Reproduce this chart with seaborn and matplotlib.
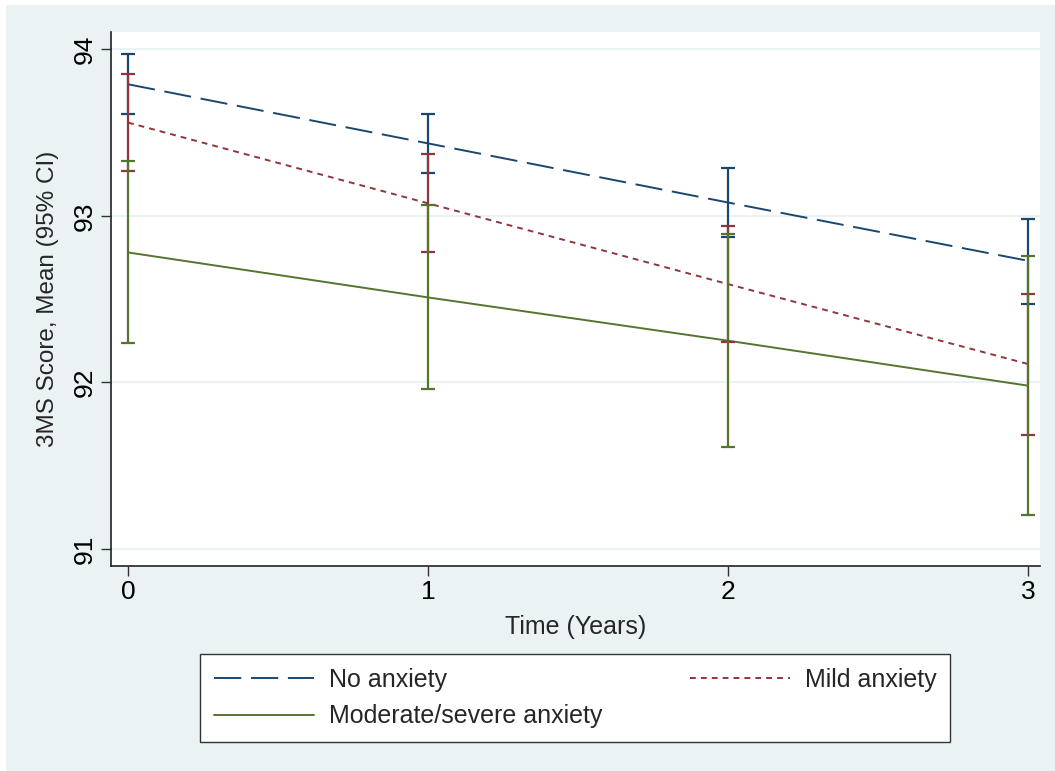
import pandas as pd
import seaborn as sns
import matplotlib.pyplot as plt
from matplotlib.patches import Rectangle
from matplotlib.lines import Line2D

# Mean 3MS score and 95% CI by anxiety group
time = [0, 1, 2, 3]
groups = ['No anxiety', 'Mild anxiety', 'Moderate/severe anxiety']

no_mean = [93.79, 93.435, 93.08, 92.73]
no_lo = [93.61, 93.26, 92.875, 92.47]
no_hi = [93.97, 93.61, 93.29, 92.98]

mild_mean = [93.56, 93.075, 92.59, 92.11]
mild_lo = [93.27, 92.78, 92.245, 91.685]
mild_hi = [93.85, 93.37, 92.94, 92.53]

mod_mean = [92.78, 92.51, 92.25, 91.98]
mod_lo = [92.235, 91.96, 91.61, 91.205]
mod_hi = [93.33, 93.065, 92.89, 92.76]

y_ticks = [91, 92, 93, 94]
x_ticks = [0, 1, 2, 3]

colors = {'No anxiety': '#1A476F', 'Mild anxiety': '#90353B',
          'Moderate/severe anxiety': '#55752F'}
dashes = {'No anxiety': (14, 5), 'Mild anxiety': (3, 2.6),
          'Moderate/severe anxiety': ''}

# Build a long table for seaborn
rows = []
for g, m, lo, hi in zip(groups, [no_mean, mild_mean, mod_mean],
                        [no_lo, mild_lo, mod_lo], [no_hi, mild_hi, mod_hi]):
    for t, a, b, c in zip(time, m, lo, hi):
        rows.append({'time': t, 'group': g, 'mean': a, 'lo': b, 'hi': c})
df = pd.DataFrame(rows)

sns.set_style('white')
plt.rcParams['font.family'] = ['Liberation Sans', 'DejaVu Sans']

fig = plt.figure(figsize=(10.55, 7.71), dpi=100, facecolor='white')
fig.patches.append(Rectangle((6 / 1055, 0), 1, (771 - 5) / 771,
                             transform=fig.transFigure, facecolor='#EAF2F3',
                             edgecolor='none', zorder=-10))
ax = fig.add_axes([111 / 1055, (771 - 566) / 771, (1040 - 111) / 1055, (566 - 32) / 771])
ax.set_facecolor('white')

# CI bars first, then the mean lines
for g in groups:
    sub = df[df['group'] == g]
    ax.errorbar(sub['time'], sub['mean'],
                yerr=[sub['mean'] - sub['lo'], sub['hi'] - sub['mean']],
                fmt='none', ecolor=colors[g], elinewidth=1.6, capsize=4.7,
                capthick=1.6, zorder=3)

sns.lineplot(data=df, x='time', y='mean', hue='group', style='group',
             hue_order=groups, style_order=groups, palette=colors,
             dashes=dashes, linewidth=1.4, legend=False, ax=ax, zorder=2)

ax.set_xlim(-0.057, 3.04)
ax.set_ylim(90.897, 94.104)
ax.set_xticks(x_ticks)
ax.set_yticks(y_ticks)
ax.set_xticklabels([str(v) for v in x_ticks], fontsize=19)
ax.set_yticklabels([str(v) for v in y_ticks], fontsize=19, rotation=90, va='center')
ax.grid(axis='y', color='#EAF2F3', linewidth=1.4)
ax.set_axisbelow(True)
ax.tick_params(axis='both', direction='out', length=7, width=1, color='#333333',
               left=True, bottom=True, labelcolor='black', pad=3)
for s in ['top', 'right']:
    ax.spines[s].set_visible(False)
for s in ['left', 'bottom']:
    ax.spines[s].set_color('#222222')
    ax.spines[s].set_linewidth(1.2)

ax.set_xlabel('Time (Years)', fontsize=18, labelpad=8)
ax.set_ylabel('3MS Score, Mean (95% CI)', fontsize=17.5, labelpad=10)

handles = {g: Line2D([], [], color=colors[g], linewidth=1.4,
                     dashes=dashes[g] if dashes[g] else (None, None))
           for g in groups}
# columns fill first: left column gets No anxiety + Moderate/severe
order = ['No anxiety', 'Moderate/severe anxiety', 'Mild anxiety']
leg = fig.legend([handles[g] for g in order], order,
                 ncol=2, loc='center', mode='expand',
                 bbox_to_anchor=(200 / 1055, 28 / 771, 750 / 1055, 90 / 771),
                 fontsize=18, handlelength=4.0, handletextpad=0.6,
                 labelspacing=0.5, borderpad=0.55, borderaxespad=0,
                 frameon=True, fancybox=False, framealpha=1)
leg.get_frame().set_edgecolor('#333333')
leg.get_frame().set_linewidth(1.0)
leg.get_frame().set_facecolor('white')

fig.savefig('out.png', dpi=100, facecolor=fig.get_facecolor())
